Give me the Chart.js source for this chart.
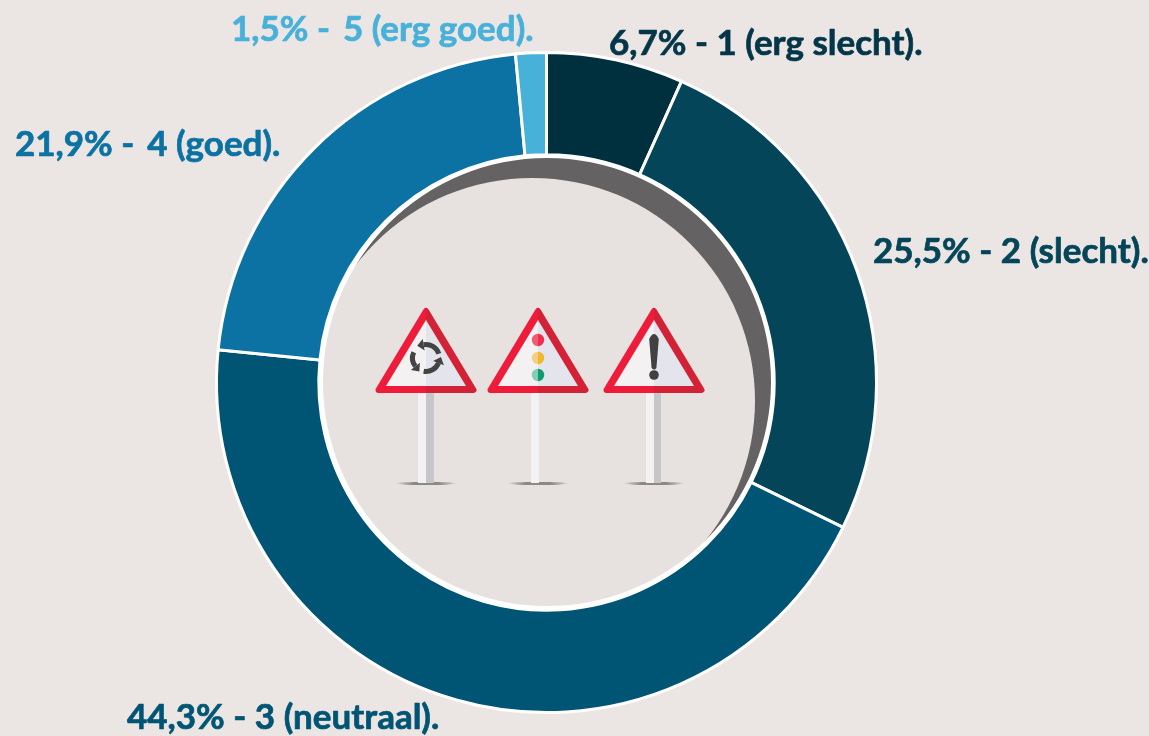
<!DOCTYPE html>
<html><head><meta charset="utf-8">
<style>html,body{margin:0;padding:0;background:#ebe6e3;overflow:hidden}#w{position:relative;width:1149px;height:736px}canvas{display:block}</style>
<script src="https://cdn.jsdelivr.net/npm/chart.js@4"></script>
</head><body><div id="w"><canvas id="c" width="1149" height="736"></canvas></div>
<script>
const categories = ['1 (erg slecht).', '2 (slecht).', '3 (neutraal).', '4 (goed).', '5 (erg goed).'];
const values = [6.7, 25.5, 44.3, 21.9, 1.5];
const separators = [' - ', ' - ', ' - ', ' - \u2009', ' - \u2009'];
const sliceColors = ['#002f3e', '#04455a', '#005574', '#0b72a3', '#48b1da'];
const labelColors = ['#04364a', '#04455a', '#005574', '#0b72a3', '#48b1da'];
const labelAnchors = [[609,44],[873,252],[127,718],[15,145],[231,30]];

const C = {x:547, y:382};
function inner(ctx){
  ctx.save();
  ctx.fillStyle='#656263';
  ctx.beginPath();ctx.arc(C.x,C.y,225,0,Math.PI*2);ctx.fill();
  ctx.fillStyle='#e7e2df';
  ctx.beginPath();ctx.arc(532.3,400.6,222.7,0,Math.PI*2);ctx.fill();
  ctx.fillStyle='#ffffff';
  ctx.beginPath();ctx.arc(C.x,C.y,232,0,Math.PI*2);ctx.arc(C.x,C.y,224,0,Math.PI*2,true);ctx.fill();
  ctx.restore();
}
function sign(ctx,cx,poleL,poleR,kind){
  ctx.save();
  const g=ctx.createLinearGradient(cx-30,0,cx+30,0);
  g.addColorStop(0,'rgba(120,118,116,0.1)');g.addColorStop(.3,'#8b8886');g.addColorStop(.7,'#8b8886');g.addColorStop(1,'rgba(120,118,116,0.1)');
  ctx.fillStyle=g;ctx.beginPath();ctx.ellipse(cx,483.5,30,1.6,0,0,Math.PI*2);ctx.fill();
  const mid=(kind==='lights')?poleR:cx;
  ctx.fillStyle='#f3f1f2';ctx.fillRect(poleL,393,mid-poleL,90);
  if(mid<poleR){ctx.fillStyle='#c6c7ca';ctx.fillRect(mid,393,poleR-mid,90);}
  const tri=(apexY,baseY,hw,c,sw)=>{
    ctx.beginPath();ctx.moveTo(cx,apexY);ctx.lineTo(cx+hw,baseY);ctx.lineTo(cx-hw,baseY);ctx.closePath();
    ctx.fillStyle=c;ctx.fill();
    if(sw){ctx.lineJoin='round';ctx.lineWidth=sw;ctx.strokeStyle=c;ctx.stroke();}
  };
  const half=(right,f)=>{ctx.save();ctx.beginPath();ctx.rect(right?cx:cx-80,290,80,120);ctx.clip();f();ctx.restore();};
  half(false,()=>{tri(311,390,47.5,'#ee1c3a',6);tri(320,386,40,'#f3f1f2');});
  half(true,()=>{tri(311,390,47.5,'#d32235',6);tri(320,386,40,'#e3e4ec');});
  if(kind==='lights'){
    [[340,'#f25a75','#ee2f52'],[358,'#f3cf83','#f3b62e'],[375,'#85ccb4','#0f9b6c']].forEach(([y,a,b])=>{
      ctx.fillStyle=a;ctx.beginPath();ctx.arc(cx,y,6.2,Math.PI/2,Math.PI*1.5);ctx.fill();
      ctx.fillStyle=b;ctx.beginPath();ctx.arc(cx,y,6.2,-Math.PI/2,Math.PI/2);ctx.fill();
    });
  } else if(kind==='alert'){
    ctx.fillStyle='#414142';
    ctx.beginPath();ctx.moveTo(cx-4.8,339);ctx.quadraticCurveTo(cx,329,cx+4.8,339);
    ctx.lineTo(cx+2.4,368);ctx.quadraticCurveTo(cx,371,cx-2.4,368);ctx.closePath();ctx.fill();
    ctx.beginPath();ctx.arc(cx,375,4.8,0,Math.PI*2);ctx.fill();
  } else {
    ctx.strokeStyle='#434344';ctx.fillStyle='#434344';ctx.lineWidth=5;
    const cy=358,r=13.5;
    [[-100,-18],[22,100],[142,205]].forEach(([a,b])=>{
      const s=a*Math.PI/180,e=b*Math.PI/180;
      ctx.beginPath();ctx.arc(cx,cy,r,s,e);ctx.stroke();
      const ax=cx+r*Math.cos(s),ay=cy+r*Math.sin(s),t=s-Math.PI/2;
      ctx.beginPath();
      ctx.moveTo(ax+6.5*Math.cos(t),ay+6.5*Math.sin(t));
      ctx.lineTo(ax+5.8*Math.cos(s),ay+5.8*Math.sin(s));
      ctx.lineTo(ax-5.8*Math.cos(s),ay-5.8*Math.sin(s));
      ctx.closePath();ctx.fill();
    });
  }
  ctx.restore();
}
const decor={
  id:'decor',
  beforeDatasetsDraw(chart){inner(chart.ctx);},
  afterDatasetsDraw(chart){
    const ctx=chart.ctx;
    sign(ctx,426,418,434,'round');
    sign(ctx,538,531,539,'lights');
    sign(ctx,654,646,661,'alert');
    ctx.save();
    ctx.font='bold 35px Lato, "Open Sans", sans-serif';
    ctx.textBaseline='alphabetic';
    ctx.textAlign='left';
    ctx.lineJoin='round';
    ctx.lineWidth=0.7;
    values.forEach((v,i)=>{
      const t=String(v).replace('.',',')+'%'+separators[i]+categories[i];
      ctx.fillStyle=labelColors[i];
      ctx.strokeStyle=labelColors[i];
      ctx.fillText(t,labelAnchors[i][0],labelAnchors[i][1]+11);
      ctx.strokeText(t,labelAnchors[i][0],labelAnchors[i][1]+11);
    });
    ctx.restore();
  }
};
new Chart(document.getElementById('c'),{
  type:'doughnut',
  data:{labels:categories,datasets:[{data:values,backgroundColor:sliceColors,borderColor:'#ffffff',borderWidth:3,hoverOffset:0}]},
  options:{
    responsive:false,animation:false,
    cutout:'69%',
    layout:{padding:{left:215,right:271,top:51,bottom:22}},
    plugins:{legend:{display:false},tooltip:{enabled:false}}
  },
  plugins:[decor]
});
</script></body></html>
